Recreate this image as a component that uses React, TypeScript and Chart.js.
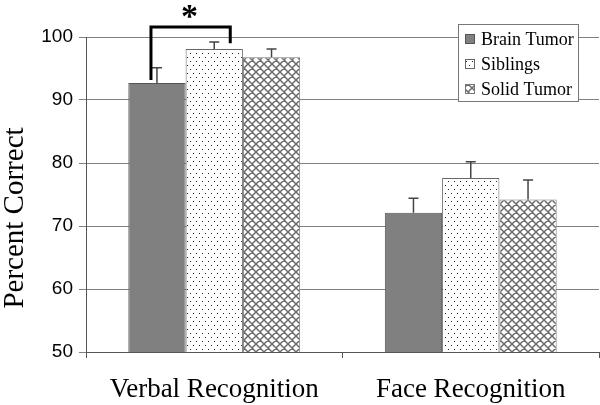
import React, { useEffect, useRef } from "react";
import { Chart, registerables } from "chart.js";

Chart.register(...registerables);

const categories = ["Verbal Recognition", "Face Recognition"];
const groups = ["Brain Tumor", "Siblings", "Solid Tumor"];
const brainTumor = [92.7, 72.1];
const siblings = [98.1, 77.6];
const solidTumor = [96.8, 74.2];
const brainTumorErr = [2.4, 2.3];
const siblingsErr = [1.1, 2.6];
const solidTumorErr = [1.3, 3.1];
const yTicks = [50, 60, 70, 80, 90, 100];
const yTitle = "Percent Correct";
const errors = [brainTumorErr, siblingsErr, solidTumorErr];

function makeDots(): CanvasPattern | string {
  const c = document.createElement("canvas");
  c.width = 6;
  c.height = 8;
  const g = c.getContext("2d")!;
  g.fillStyle = "#ffffff";
  g.fillRect(0, 0, 6, 8);
  g.fillStyle = "#222222";
  g.fillRect(1, 1, 1, 1);
  g.fillRect(4, 5, 1, 1);
  return g.createPattern(c, "repeat") || "#fff";
}

function makeHatch(): CanvasPattern | string {
  const c = document.createElement("canvas");
  c.width = 8;
  c.height = 8;
  const g = c.getContext("2d")!;
  g.fillStyle = "#ffffff";
  g.fillRect(0, 0, 8, 8);
  g.strokeStyle = "#6a6a6a";
  g.lineWidth = 1.5;
  g.beginPath();
  g.moveTo(-1, -1);
  g.lineTo(9, 9);
  g.moveTo(-1, 7);
  g.lineTo(1, 9);
  g.moveTo(7, -1);
  g.lineTo(9, 1);
  g.moveTo(9, -1);
  g.lineTo(-1, 9);
  g.moveTo(1, -1);
  g.lineTo(-1, 1);
  g.moveTo(9, 7);
  g.lineTo(7, 9);
  g.stroke();
  return g.createPattern(c, "repeat") || "#fff";
}

export default function App() {
  const ref = useRef<HTMLCanvasElement>(null);
  useEffect(() => {
    document.body.style.margin = "0";
    const fills = ["#808080", makeDots(), makeHatch()];
    const borders = ["#555555", "#666666", "#777777"];
    const series = [brainTumor, siblings, solidTumor];

    const overlay = {
      id: "overlay",
      afterDatasetsDraw(chart: any) {
        const ctx = chart.ctx;
        const y = chart.scales.y;
        // error bars
        ctx.save();
        ctx.strokeStyle = "#444";
        ctx.lineWidth = 1.5;
        series.forEach((_, di) => {
          const meta = chart.getDatasetMeta(di);
          meta.data.forEach((bar: any, i: number) => {
            const v = series[di][i];
            const top = y.getPixelForValue(v + errors[di][i]);
            const base = y.getPixelForValue(v);
            ctx.beginPath();
            ctx.moveTo(bar.x, base);
            ctx.lineTo(bar.x, top);
            ctx.moveTo(bar.x - 5, top);
            ctx.lineTo(bar.x + 5, top);
            ctx.stroke();
          });
        });
        ctx.restore();

        // significance bracket
        const b0 = chart.getDatasetMeta(0).data[0];
        const b1 = chart.getDatasetMeta(1).data[0];
        const lx = b0.x - 6;
        const rx = b1.x + 16;
        const topY = y.getPixelForValue(101.6);
        ctx.save();
        ctx.strokeStyle = "#000";
        ctx.lineWidth = 3;
        ctx.beginPath();
        ctx.moveTo(lx, y.getPixelForValue(brainTumor[0]) - 3);
        ctx.lineTo(lx, topY);
        ctx.lineTo(rx, topY);
        ctx.lineTo(rx, y.getPixelForValue(siblings[0] + 0.9));
        ctx.stroke();
        ctx.fillStyle = "#000";
        ctx.font = "bold 34px 'Liberation Serif'";
        ctx.textAlign = "center";
        ctx.textBaseline = "top";
        ctx.fillText("*", (lx + rx) / 2 - 1, 1);
        ctx.restore();

        // y-axis title
        ctx.save();
        ctx.translate(23, 218);
        ctx.rotate(-Math.PI / 2);
        ctx.fillStyle = "#000";
        ctx.font = "29px 'Liberation Serif'";
        ctx.textAlign = "center";
        ctx.textBaseline = "alphabetic";
        ctx.fillText(yTitle, 0, 0);
        ctx.restore();

        // legend
        const lx0 = 458, ly0 = 24, lw = 120, lh = 77;
        ctx.save();
        ctx.fillStyle = "#fff";
        ctx.fillRect(lx0, ly0, lw, lh);
        ctx.strokeStyle = "#777";
        ctx.lineWidth = 1;
        ctx.strokeRect(lx0 + 0.5, ly0 + 0.5, lw, lh);
        ctx.font = "18px 'Liberation Serif'";
        ctx.textBaseline = "middle";
        ctx.textAlign = "left";
        groups.forEach((name, i) => {
          const cy = ly0 + 15 + i * 25;
          ctx.fillStyle = fills[i] as any;
          ctx.fillRect(465, cy - 5, 10, 10);
          ctx.strokeStyle = borders[i];
          ctx.strokeRect(465.5, cy - 4.5, 9, 9);
          ctx.fillStyle = "#000";
          ctx.fillText(name, 481, cy + 1);
        });
        ctx.restore();
      },
    };

    const chart = new Chart(ref.current!, {
      type: "bar",
      data: {
        labels: categories,
        datasets: groups.map((g, i) => ({
          label: g,
          data: series[i],
          backgroundColor: fills[i] as any,
          borderColor: borders[i],
          borderWidth: 1,
          categoryPercentage: 0.67,
          barPercentage: 1.0,
        })),
      },
      options: {
        animation: false,
        responsive: false,
        layout: { padding: { top: 37, right: 1, left: 0, bottom: 0 } },
        plugins: { legend: { display: false }, tooltip: { enabled: false } },
        scales: {
          x: {
            afterFit(s: any) {
              s.height = 53;
            },
            border: { color: "#555", width: 1 },
            grid: { drawOnChartArea: false, tickLength: 6, color: "#555", offset: true },
            ticks: {
              color: "#000",
              padding: 16,
              font: { family: "'Liberation Serif'", size: 27 },
            },
          },
          y: {
            min: 50,
            max: 100,
            afterFit(s: any) {
              s.width = 86;
            },
            afterBuildTicks(s: any) {
              s.ticks = yTicks.map((v) => ({ value: v }));
            },
            border: { color: "#555", width: 1 },
            grid: { color: "#808080", lineWidth: 1, tickLength: 7 },
            ticks: {
              color: "#000",
              padding: 6,
              font: { family: "'Liberation Sans'", size: 19 },
            },
          },
        },
      },
      plugins: [overlay],
    });
    return () => chart.destroy();
  }, []);
  return (
    <div style={{ position: "fixed", left: 0, top: 0, width: 600, height: 405 }}>
      <canvas ref={ref} width={600} height={405} />
    </div>
  );
}
